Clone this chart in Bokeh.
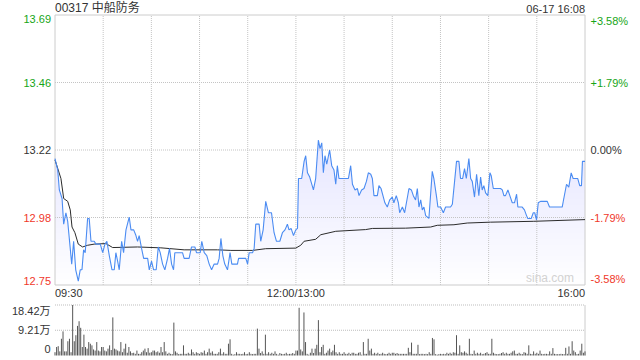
import numpy as np
from bokeh.plotting import figure
from bokeh.models import Range1d
from bokeh.core.properties import value
from bokeh.embed import file_html
from bokeh.resources import INLINE

# ---------------- data ----------------
stock_title = "00317 中船防务"
timestamp = "06-17 16:08"
prev_close = 13.22
price_tick_labels = ["13.69", "13.46", "13.22", "12.98", "12.75"]
pct_ticks = [0.0358, 0.0179, 0.0, -0.0179, -0.0358]
pct_tick_labels = ["+3.58%", "+1.79%", "0.00%", "-1.79%", "-3.58%"]
time_tick_minutes = [0, 150, 330]
time_tick_labels = ["09:30", "12:00/13:00", "16:00"]
grid_minutes = [30, 60, 90, 120, 150, 180, 210, 240, 270, 300]
vol_ticks = [18.42, 9.21, 0]
vol_tick_labels = ["18.42万", "9.21万", "0"]

# minutes since 09:30 (lunch break removed)
price_minutes = [
    0, 1.7, 2.7, 4.4, 5.4, 6.8, 7.9, 8.9, 10.4, 11.6,
    12.9, 14.5, 15.7, 16.8, 17.8, 18.8, 20.3, 21.3, 22.4, 24.4,
    25.5, 28.2, 29.7, 31.1, 32.3, 33.8, 35.5, 36.9, 37.9, 39.0,
    40.0, 41.5, 42.7, 44.2, 46.2, 47.3, 49.0, 50.4, 51.4, 52.4,
    53.9, 55.2, 57.7, 58.7, 60.1, 61.4, 63.0, 64.3, 65.5, 67.0,
    68.4, 70.1, 71.3, 72.6, 73.8, 74.6, 79.4, 80.4, 83.5, 85.0,
    87.1, 88.1, 90.4, 91.4, 92.9, 94.5, 96.0, 97.5, 99.1, 101.2,
    102.2, 103.3, 104.5, 105.7, 107.4, 109.0, 110.1, 113.6, 114.3, 118.8,
    119.9, 120.9, 123.0, 124.0, 125.0, 127.1, 128.1, 129.6, 131.2, 132.9,
    134.8, 136.4, 137.9, 140.0, 141.6, 143.2, 144.7, 145.7, 147.0, 148.5,
    149.9, 151.0, 151.6, 153.6, 155.1, 156.1, 157.2, 158.6, 160.9, 162.3,
    164.0, 165.0, 166.1, 167.1, 168.1, 169.2, 171.0, 172.3, 173.7, 174.8,
    175.8, 176.8, 182.7, 184.1, 185.2, 186.8, 188.3, 189.3, 190.9, 192.4,
    193.9, 195.1, 196.6, 197.6, 198.6, 200.7, 201.7, 203.0, 204.2, 205.4,
    206.9, 208.4, 210.0, 211.0, 212.5, 213.8, 214.6, 216.3, 217.7, 220.4,
    221.9, 223.1, 224.5, 225.6, 226.6, 227.7, 228.7, 229.7, 230.8, 232.8,
    234.9, 235.9, 237.6, 238.4, 240.1, 241.8, 243.2, 246.3, 247.4, 248.8,
    250.0, 251.5, 252.5, 253.8, 255.0, 256.1, 257.7, 258.8, 259.8, 261.2,
    262.5, 263.9, 265.0, 266.0, 267.0, 268.1, 269.5, 270.8, 271.6, 272.9,
    277.4, 278.5, 279.5, 280.5, 282.0, 283.2, 284.7, 286.1, 287.4, 288.2,
    290.9, 292.3, 293.6, 294.4, 296.5, 297.8, 298.7, 299.8, 300.9, 302.3,
    306.5, 307.9, 315.8, 316.8, 318.5, 319.9, 321.4, 322.6, 325.5, 326.7,
    327.8, 328.4, 330.0,
]
price_values = [
    13.19, 13.15, 13.08, 13.05, 12.96, 13.00, 12.97, 12.91, 12.82, 12.90,
    12.80, 12.76, 12.80, 12.80, 12.87, 12.86, 12.98, 12.98, 12.90, 12.90,
    12.89, 12.89, 12.86, 12.89, 12.90, 12.85, 12.80, 12.80, 12.86, 12.83,
    12.80, 12.90, 12.86, 12.94, 12.985, 12.94, 12.94, 12.92, 12.90, 12.92,
    12.875, 12.84, 12.84, 12.80, 12.83, 12.80, 12.80, 12.88, 12.86, 12.82,
    12.80, 12.84, 12.875, 12.82, 12.80, 12.86, 12.86, 12.84, 12.84, 12.88,
    12.88, 12.86, 12.86, 12.90, 12.86, 12.85, 12.82, 12.80, 12.82, 12.82,
    12.84, 12.91, 12.85, 12.82, 12.80, 12.86, 12.82, 12.82, 12.84, 12.84,
    12.82, 12.86, 12.86, 12.875, 12.96, 12.96, 12.90, 12.94, 13.04, 13.00,
    13.00, 12.93, 12.90, 12.90, 12.93, 12.94, 12.96, 12.94, 12.945, 12.92,
    12.94, 12.945, 13.12, 13.12, 13.18, 13.20, 13.14, 13.125, 13.08, 13.12,
    13.255, 13.225, 13.245, 13.14, 13.20, 13.17, 13.22, 13.165, 13.15, 13.10,
    13.165, 13.12, 13.12, 13.165, 13.10, 13.08, 13.085, 13.06, 13.08, 13.085,
    13.11, 13.14, 13.135, 13.12, 13.06, 13.06, 13.095, 13.085, 13.06, 13.035,
    13.02, 13.045, 13.055, 13.035, 13.06, 13.035, 13.00, 13.02, 13.00, 13.085,
    13.08, 13.06, 13.045, 13.085, 13.02, 13.045, 13.01, 13.02, 12.99, 12.98,
    13.145, 13.12, 13.055, 13.02, 13.02, 13.00, 13.02, 13.02, 13.03, 13.11,
    13.18, 13.18, 13.12, 13.12, 13.155, 13.12, 13.19, 13.12, 13.11, 13.055,
    13.135, 13.06, 13.125, 13.08, 13.095, 13.07, 13.06, 13.14, 13.13, 13.085,
    13.085, 13.08, 13.06, 13.06, 13.08, 13.06, 13.035, 13.035, 13.065, 13.02,
    13.02, 13.01, 12.99, 12.98, 12.98, 13.00, 13.00, 12.975, 13.035, 13.04,
    13.04, 13.02, 13.02, 13.05, 13.10, 13.09, 13.14, 13.12, 13.12, 13.095,
    13.095, 13.18, 13.18,
]

avg_minutes = [0, 3.7, 5.4, 7.9, 9.5, 10.6, 12.4, 14.5, 17.2, 20.3,
               24.4, 31.7, 35.9, 51.4, 65.9, 80.4, 101.2, 109.5, 123.0, 131.2,
               149.9, 153.0, 155.1, 162.3, 165.5, 174.8, 193.4, 197.6, 218.3, 233.9,
               238.0, 248.4, 256.7, 271.2, 298.1, 330.0]
avg_values = [13.185, 13.12, 13.05, 13.04, 13.01, 12.95, 12.93, 12.89, 12.88, 12.886,
              12.89, 12.892, 12.878, 12.88, 12.877, 12.87, 12.87, 12.868, 12.868, 12.874,
              12.876, 12.886, 12.90, 12.907, 12.923, 12.935, 12.941, 12.945, 12.946, 12.95,
              12.956, 12.958, 12.964, 12.967, 12.97, 12.976]

# volume per minute, in 万 shares
volume_wan = [
    1.2, 3.1, 3.4, 1.5, 6.1, 8.8, 1.5, 1.5, 5.2, 6.1,
    1.2, 18.42, 5.2, 7.4, 10.8, 12.5, 10.1, 3.1, 7.6, 3.1,
    2.5, 4.9, 4.3, 3.7, 2.2, 1.8, 4.9, 1.8, 1.5, 3.1,
    3.1, 1.8, 1.5, 2.5, 3.7, 2.0, 13.9, 2.5, 2.2, 1.8,
    1.5, 4.9, 1.2, 2.5, 4.3, 1.0, 3.1, 1.5, 0.9, 1.0,
    0.6, 1.8, 0.6, 0.6, 1.2, 1.8, 2.5, 1.2, 2.7, 1.0,
    1.2, 1.8, 1.8, 1.2, 1.5, 1.0, 3.1, 1.2, 4.9, 1.5,
    0.6, 1.0, 0.6, 0.5, 12.0, 1.5, 1.0, 0.5, 0.6, 0.6,
    3.7, 0.6, 0.6, 1.0, 0.6, 2.2, 1.2, 0.6, 1.2, 0.9,
    0.6, 1.2, 1.0, 1.8, 0.6, 1.2, 2.5, 1.0, 1.5, 0.6,
    0.6, 0.6, 1.2, 2.5, 0.6, 1.2, 0.6, 0.6, 4.3, 5.9,
    0.6, 0.3, 0.5, 1.2, 0.6, 0.6, 0.5, 0.6, 1.2, 0.5,
    0.6, 1.2, 0.6, 0.5, 0.6, 0.6, 9.8, 2.5, 0.9, 1.5,
    0.6, 7.6, 0.6, 1.2, 0.6, 1.0, 0.6, 1.5, 0.6, 0.3,
    0.9, 0.6, 0.5, 0.6, 1.0, 0.5, 0.6, 0.6, 0.9, 0.6,
    1.8, 1.8, 17.4, 2.2, 1.5, 15.7, 4.9, 0.6, 0.3, 1.0,
    2.5, 0.9, 2.5, 3.9, 12.9, 1.2, 3.1, 3.9, 0.6, 1.0,
    1.8, 2.5, 1.2, 1.8, 3.9, 1.2, 0.6, 1.2, 0.6, 0.6,
    1.2, 0.6, 0.6, 1.0, 0.5, 1.0, 1.0, 0.6, 0.6, 1.0,
    1.2, 0.3, 4.9, 0.6, 0.6, 6.1, 1.8, 2.5, 0.6, 1.0,
    0.6, 1.0, 0.5, 0.6, 1.0, 0.6, 0.5, 0.6, 1.0, 0.6,
    1.0, 1.0, 0.6, 0.9, 0.6, 0.6, 0.6, 0.6, 0.6, 0.6,
    2.8, 1.2, 4.7, 0.6, 0.6, 0.6, 3.9, 0.5, 0.6, 0.6,
    0.5, 0.6, 0.5, 1.2, 0.6, 6.4, 5.9, 0.5, 0.3, 0.5,
    0.6, 0.5, 0.6, 0.5, 1.0, 0.6, 1.0, 0.6, 1.2, 1.0,
    7.4, 0.6, 3.7, 1.2, 1.0, 1.5, 1.0, 0.6, 6.1, 0.6,
    0.5, 1.8, 0.6, 1.0, 0.6, 1.0, 0.5, 0.6, 0.9, 1.2,
    0.6, 0.6, 6.1, 1.0, 0.6, 0.5, 0.5, 0.6, 0.9, 1.2,
    0.6, 1.0, 0.6, 0.6, 1.0, 1.5, 1.8, 0.6, 0.6, 1.0,
    0.6, 0.5, 1.2, 1.0, 0.6, 3.7, 0.6, 0.5, 1.5, 0.6,
    1.0, 0.6, 1.8, 0.6, 0.5, 0.6, 0.6, 0.5, 1.5, 0.6,
    2.7, 0.6, 0.5, 0.5, 0.5, 0.6, 0.5, 0.5, 2.8, 0.6,
    3.3, 0.6, 5.2, 1.8, 1.2, 0.5, 0.6, 1.8, 4.3, 1.0,
    1.5,
]

# ---------------- layout geometry (pixels) ----------------
W, H = 640, 360
PX_L, PX_R = 54.5, 584.5          # session span, left/right
PY_T, PY_B = 14.5, 284.5          # price panel top/bottom
VY_T, VY_B = 304.5, 355.0         # volume panel top/bottom

FONT = "Liberation Sans, Noto Sans CJK SC, sans-serif"
GREEN = "#16a516"
RED = "#f0382a"
DARK = "#333333"
GRID = "#c4c4c4"
BORDER = "#cccccc"

tick_prices = [prev_close * (1 + t) for t in pct_ticks]
y_lo, y_hi = min(tick_prices), max(tick_prices)
t0, t1 = time_tick_minutes[0], time_tick_minutes[-1]

# ranges chosen so that the data spans map onto the pixel panels above
kx = (t1 - t0) / (PX_R - PX_L)
ky = (y_hi - y_lo) / (PY_B - PY_T)
kv = vol_ticks[0] / (VY_B - VY_T)
x_range = Range1d(t0 - PX_L * kx, t1 + (W - PX_R) * kx)
y_range = Range1d(y_lo - (H - PY_B) * ky, y_hi + PY_T * ky)
v_range = Range1d(0 - (H - VY_B) * kv, vol_ticks[0] + VY_T * kv)

p = figure(width=W, height=H, x_range=x_range, y_range=y_range,
           output_backend="svg", toolbar_location=None, title=None,
           x_axis_location=None, y_axis_location=None, min_border=0,
           outline_line_color=None, background_fill_color="white",
           border_fill_color="white")
p.grid.visible = False
p.extra_y_ranges = {"vol": v_range}

# gradient fill under price line (stacked translucent layers)
px = np.array(price_minutes)
py = np.array(price_values)
for lvl in np.arange(y_lo, 13.27, 0.02):
    p.varea(x=px, y1=lvl, y2=np.maximum(py, lvl), fill_color="#b8cffa",
            fill_alpha=0.018)

# price panel gridlines
mid = tick_prices[1:-1]
p.segment(x0=[t0] * len(mid), y0=mid, x1=[t1] * len(mid), y1=mid,
          line_color=GRID, line_dash="1 1", line_width=1)
p.segment(x0=grid_minutes, y0=[y_lo] * len(grid_minutes), x1=grid_minutes,
          y1=[y_hi] * len(grid_minutes), line_color=GRID, line_dash="1 1", line_width=1)
# price panel border
p.quad(left=[t0], right=[t1], bottom=[y_lo], top=[y_hi], fill_color=None,
       line_color=BORDER, line_width=1)

p.line(avg_minutes, avg_values, line_color="#2b2b2b", line_width=1)
p.line(price_minutes, price_values, line_color="#4b8cf2", line_width=1.1)

def txt(x, y, s, align, base, color, size="11px", xo=0, yo=0, rng="default"):
    p.text(x=[x], y=[y], text=[s], text_align=value(align), text_baseline=value(base),
           x_offset=xo, y_offset=yo, text_font=value(FONT), text_font_size=value(size),
           text_color=color, y_range_name=rng)

def tick_color(t):
    return GREEN if t > 0 else (RED if t < 0 else DARK)

n = len(pct_ticks)
for i, (t, tp) in enumerate(zip(pct_ticks, tick_prices)):
    base = "top" if i == 0 else ("bottom" if i == n - 1 else "middle")
    txt(t0, tp, price_tick_labels[i], "right", base, tick_color(t), xo=-4)
    txt(t1, tp, pct_tick_labels[i], "left", base, tick_color(t), xo=5.5)

for m, lab, al in zip(time_tick_minutes, time_tick_labels, ["left", "center", "right"]):
    txt(m, y_lo, lab, al, "top", DARK, yo=2)

txt(t0, y_hi, stock_title, "left", "bottom", DARK, size="12px", yo=0)
txt(t1, y_hi, timestamp, "right", "bottom", DARK, yo=0)
txt(t1, y_lo, "sina.com", "right", "bottom", "#d2d2d2", size="12px", xo=-11, yo=0)

# ---------------- volume panel ----------------
p.segment(x0=[t0, t0], y0=vol_ticks[:2], x1=[t1, t1], y1=vol_ticks[:2],
          line_color="#bdbdbd", line_dash="1 1", line_width=1, y_range_name="vol")
p.segment(x0=[t1], y0=[0], x1=[t1], y1=[vol_ticks[0]], line_color=BORDER,
          line_width=1, y_range_name="vol")
vm = np.arange(len(volume_wan))
p.segment(x0=vm, y0=0, x1=vm, y1=volume_wan, line_color="#555555", line_width=1,
          y_range_name="vol")

nv = len(vol_ticks)
for i, (vt, lab) in enumerate(zip(vol_ticks, vol_tick_labels)):
    base = "top" if i == 0 else ("bottom" if i == nv - 1 else "middle")
    yo = -3 if i == nv - 1 else 0
    txt(t0, vt, lab, "right", base, DARK, xo=-4.5, yo=yo, rng="vol")

open("out.html", "w").write(file_html(p, INLINE))
